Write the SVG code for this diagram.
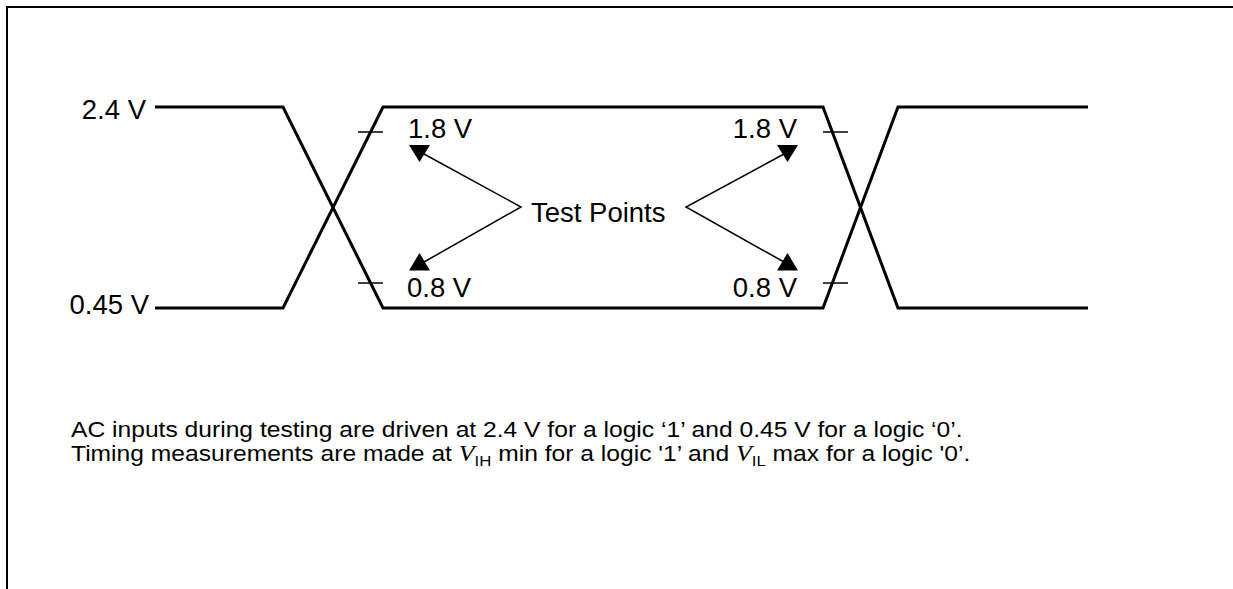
<svg xmlns="http://www.w3.org/2000/svg" width="1233" height="589" viewBox="0 0 1233 589">
<style>
.frame{fill:none;stroke:#000;stroke-width:2}
.wave{fill:none;stroke:#000;stroke-width:3;stroke-linejoin:miter}
.tick{fill:none;stroke:#000;stroke-width:1.5}
.lead{fill:none;stroke:#000;stroke-width:1.5}
.tri{fill:#000;stroke:none}
.lbl{font-family:"Liberation Sans",Arial,sans-serif;font-size:27.5px;fill:#000}
.cap{font-family:"Liberation Sans",Arial,sans-serif;font-size:22px;fill:#000}
.vi{font-family:"Liberation Serif","Times New Roman",serif;font-style:italic;font-size:23px}
.sub{font-size:15px}
</style>
<rect width="1233" height="589" fill="#fff"/>
<path class="frame" d="M7,589 V7 H1233"/>
<g id="waveforms">
<path class="wave" d="M155,107 H283 L383,308 H823 L898,107 H1088"/>
<path class="wave" d="M155,308 H283 L383,107 H823 L898,308 H1088"/>
</g>
<g id="ticks">
<path class="tick" d="M358,132 H383 M358,283 H383 M823,132 H848 M823,283 H848"/>
</g>
<g id="labels">
<text class="lbl" x="146" y="119" text-anchor="end">2.4 V</text>
<text class="lbl" x="149" y="314" text-anchor="end">0.45 V</text>
<text class="lbl" x="408" y="138">1.8 V</text>
<text class="lbl" x="407" y="297">0.8 V</text>
<text class="lbl" x="797" y="138" text-anchor="end">1.8 V</text>
<text class="lbl" x="797" y="297" text-anchor="end">0.8 V</text>
</g>
<g id="test-points">
<text class="lbl" x="531" y="221.5">Test Points</text>
</g>
<g id="connectors">
<path class="lead" d="M424,154 L521,207 L424,262"/>
<path class="lead" d="M784,154 L686,207 L784,262"/>
<polygon class="tri" points="409,145 430,145 419.5,162"/>
<polygon class="tri" points="409,270.5 430,270.5 419.5,253"/>
<polygon class="tri" points="777,145 798,145 787.5,162"/>
<polygon class="tri" points="777,270.5 798,270.5 787.5,253"/>
</g>
<g id="caption" transform="translate(71,0) scale(1.12,1)">
<text class="cap" x="0" y="437">AC inputs during testing are driven at 2.4 V for a logic ‘1’ and 0.45 V for a logic ‘0’.</text>
<text class="cap" x="0" y="461">Timing measurements are made at <tspan class="vi">V</tspan><tspan class="sub" dy="5">IH</tspan><tspan dy="-5"> min for a logic '1’ and </tspan><tspan class="vi">V</tspan><tspan class="sub" dy="5">IL</tspan><tspan dy="-5"> max for a logic '0’.</tspan></text>
</g>
</svg>
